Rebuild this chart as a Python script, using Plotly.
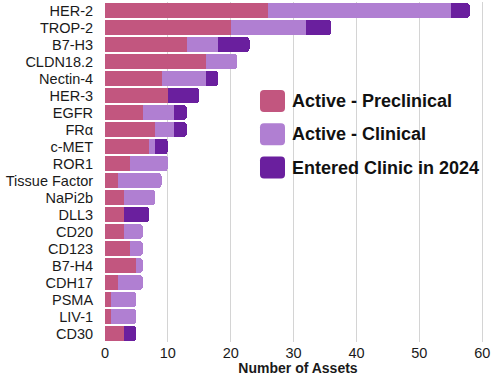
import plotly.graph_objects as go

targets = ["HER-2", "TROP-2", "B7-H3", "CLDN18.2", "Nectin-4", "HER-3", "EGFR", "FRα",
           "c-MET", "ROR1", "Tissue Factor", "NaPi2b", "DLL3", "CD20", "CD123", "B7-H4",
           "CDH17", "PSMA", "LIV-1", "CD30"]
preclinical = [26, 20, 13, 16, 9, 10, 6, 8, 7, 4, 2, 3, 3, 3, 4, 5, 2, 1, 1, 3]
clinical    = [29, 12, 5, 5, 7, 0, 5, 3, 1, 6, 7, 5, 0, 3, 2, 1, 4, 4, 4, 0]
entered     = [3, 4, 5, 0, 2, 5, 2, 2, 2, 0, 0, 0, 4, 0, 0, 0, 0, 0, 0, 2]
series_names = ["Active - Preclinical", "Active - Clinical", "Entered Clinic in 2024"]
colors = ["#c2567f", "#b07fd2", "#6a1f9e"]
x_ticks = [0, 10, 20, 30, 40, 50, 60]

W, H = 498, 378
ML, MR, MT, MB = 105, 7, 2, 36
PW, PH = W - ML - MR, H - MT - MB

fig = go.Figure()
for name, vals, col in zip(series_names, [preclinical, clinical, entered], colors):
    fig.add_trace(go.Bar(y=targets, x=vals, name=name, orientation="h",
                         marker=dict(color=col, line=dict(width=0)), showlegend=False))

def px2paper(px, py):
    return (px - ML) / PW, 1 - (py - MT) / PH

def rrect(x0, y0, x1, y1, r=3):
    def P(x, y):
        a, b = px2paper(x, y)
        return f"{a:.5f},{b:.5f}"
    return (f"M {P(x0+r,y0)} L {P(x1-r,y0)} Q {P(x1,y0)} {P(x1,y0+r)} "
            f"L {P(x1,y1-r)} Q {P(x1,y1)} {P(x1-r,y1)} L {P(x0+r,y1)} "
            f"Q {P(x0,y1)} {P(x0,y1-r)} L {P(x0,y0+r)} Q {P(x0,y0)} {P(x0+r,y0)} Z")

shapes, annotations = [], []
for i, (name, col) in enumerate(zip(series_names, colors)):
    cy = 101 + i * 33.3
    shapes.append(dict(type="path", xref="paper", yref="paper",
                       path=rrect(260, cy - 11, 285, cy + 11, 4),
                       fillcolor=col, line=dict(width=0)))
    ax, ay = px2paper(290, cy)
    annotations.append(dict(x=ax, y=ay, xref="paper", yref="paper", text=f"<b>{name}</b>",
                            showarrow=False, xanchor="left", yanchor="middle",
                            font=dict(size=18, color="#111", family="Liberation Sans, Arial")))

fig.update_layout(
    barmode="stack", bargap=0.13, barcornerradius=3,
    width=W, height=H, margin=dict(l=ML, r=MR, t=MT, b=MB, autoexpand=False),
    plot_bgcolor="white", paper_bgcolor="white",
    font=dict(family="Liberation Sans, Arial", size=14.5, color="#1a1a1a"),
    shapes=shapes, annotations=annotations,
    xaxis=dict(range=[0, 61.4], tickvals=x_ticks, showgrid=True, gridcolor="#d4d4d4",
               gridwidth=1, zeroline=False, showline=False, automargin=False,
               tickfont=dict(size=14.5),
               title=dict(text="<b>Number of Assets</b>", font=dict(size=14), standoff=0)),
    yaxis=dict(autorange="reversed", showgrid=False, zeroline=False, showline=False,
               automargin=False,
               ticks="outside", ticklen=8, tickcolor="rgba(0,0,0,0)",
               tickfont=dict(size=14.5)),
)
fig.write_html("out.html", config={"displayModeBar": False},
               post_script="document.body.style.margin='0';")
